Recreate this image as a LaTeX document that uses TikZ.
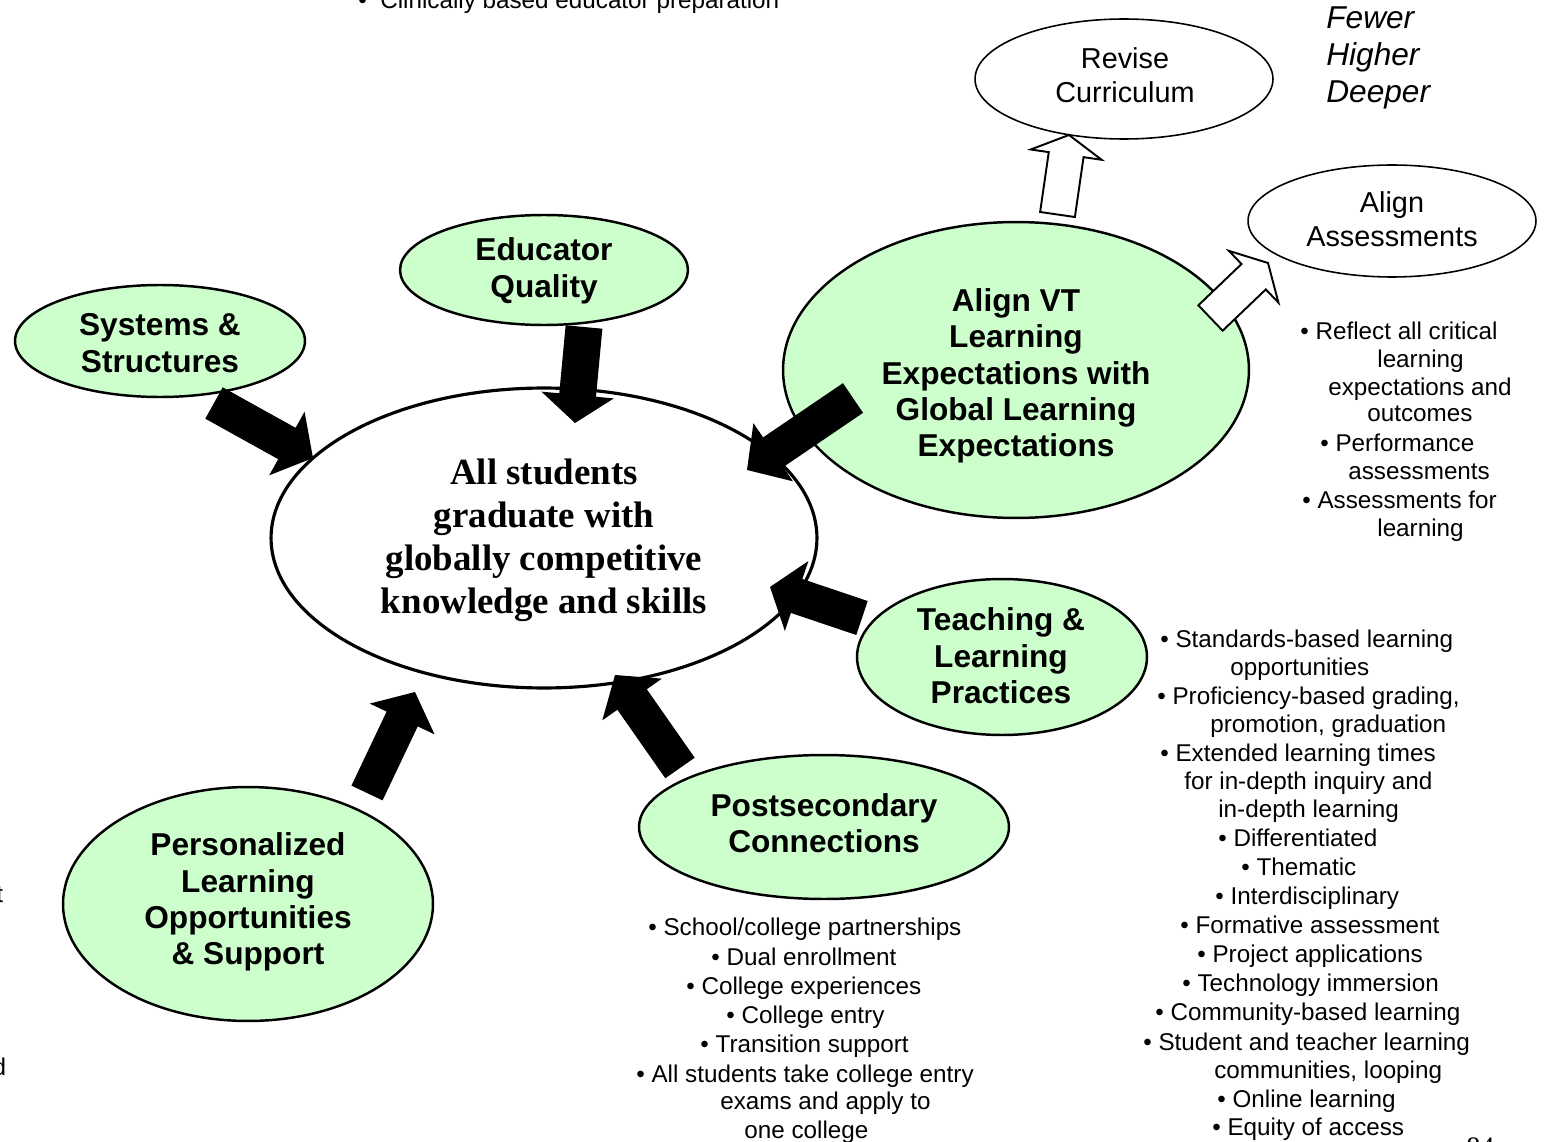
\documentclass[tikz,border=0pt]{standalone}
\usepackage{fontspec}
\setmainfont{Liberation Sans}
\newfontfamily\serifface{Liberation Serif}
\usetikzlibrary{shapes.geometric,calc}
\definecolor{lightgreen}{HTML}{CCFFCC}
\tikzset{
 greenell/.style={ellipse, draw=black, line width=1.4pt, fill=lightgreen, inner sep=0},
 whiteell/.style={ellipse, draw=black, line width=0.9pt, fill=white, inner sep=0},
 mainell/.style={ellipse, draw=black, line width=1.8pt, fill=white, inner sep=0},
 boldlbl/.style={align=center, inner sep=0, font=\fontsize{18}{20.7}\selectfont\bfseries},
 plainlbl/.style={align=center, inner sep=0, font=\fontsize{16.4}{19.3}\selectfont},
 mainlbl/.style={align=center, inner sep=0, font=\serifface\fontsize{21}{24.4}\selectfont\bfseries},
 bul/.style={anchor=base west, inner sep=0, font=\fontsize{13.8}{16.4}\selectfont},
 blackarr/.style={fill=black},
 whitearr/.style={fill=white, draw=black, line width=1.1pt, line join=miter},
}
\newcommand\myblockarrow[6]{%
  \path ($(#2)!#5!(#1)$) coordinate (ba-n);
  \path[#6] ($(#1)!#3!90:(#2)$) -- ($(ba-n)!#3!-90:(#1)$) -- ($(ba-n)!#4!-90:(#1)$) -- (#2)
    -- ($(ba-n)!#4!90:(#1)$) -- ($(ba-n)!#3!90:(#1)$) -- ($(#1)!#3!-90:(#2)$) -- cycle;
}
\begin{document}
\begin{tikzpicture}[x=0.02cm, y=-0.02cm]
\useasboundingbox (0,0) rectangle (1545,1142);

% ellipses
\node[mainell, minimum width=10.92cm, minimum height=6.0cm] (main) at (544,538) {};
\node[greenell, minimum width=5.76cm, minimum height=2.2cm] (edu) at (544,270) {};
\node[greenell, minimum width=5.8cm, minimum height=2.24cm] (sys) at (160,341) {};
\node[greenell, minimum width=9.32cm, minimum height=5.92cm] (alvt) at (1016,370) {};
\node[greenell, minimum width=5.8cm, minimum height=3.12cm] (teach) at (1002,657) {};
\node[greenell, minimum width=7.4cm, minimum height=2.88cm] (post) at (824,827) {};
\node[greenell, minimum width=7.4cm, minimum height=4.68cm] (pers) at (248,904) {};
\node[whiteell, minimum width=5.96cm, minimum height=2.4cm] (rev) at (1124,79) {};
\node[whiteell, minimum width=5.76cm, minimum height=2.24cm] (assess) at (1392,221) {};

% arrows
\coordinate (a1t) at (214,403); \coordinate (a1h) at (313,458);
\coordinate (a2t) at (584,327); \coordinate (a2h) at (575,423);
\coordinate (a3t) at (853,398); \coordinate (a3h) at (747,470);
\coordinate (a4t) at (862,618); \coordinate (a4h) at (770,587);
\coordinate (a5t) at (680,768); \coordinate (a5h) at (615,675);
\coordinate (a6t) at (367,793); \coordinate (a6h) at (415,692);
\coordinate (w1t) at (1057.5,214.5); \coordinate (w1h) at (1069,135);
\coordinate (w2t) at (1210.5,318); \coordinate (w2h) at (1268,263);
\myblockarrow{a1t}{a1h}{10.2pt}{20.7pt}{17pt}{blackarr}
\myblockarrow{a2t}{a2h}{10.5pt}{20.7pt}{16pt}{blackarr}
\myblockarrow{a3t}{a3h}{10.2pt}{20pt}{18pt}{blackarr}
\myblockarrow{a4t}{a4h}{10.2pt}{21pt}{16pt}{blackarr}
\myblockarrow{a5t}{a5h}{10.2pt}{20.7pt}{17pt}{blackarr}
\myblockarrow{a6t}{a6h}{9.8pt}{20.4pt}{17pt}{blackarr}
\myblockarrow{w1t}{w1h}{10pt}{20.4pt}{11.3pt}{whitearr}
\myblockarrow{w2t}{w2h}{10pt}{20.4pt}{11.3pt}{whitearr}

% labels
\node[mainlbl] (main-t) at (544,540) {All students\\graduate with\\globally competitive\\knowledge and skills};
\node[boldlbl] (edu-t) at (544,271) {Educator\\Quality};
\node[boldlbl] (sys-t) at (160,343) {Systems \&\\Structures};
\node[boldlbl] (alvt-t) at (1016,376) {Align VT\\Learning\\Expectations with\\Global Learning\\Expectations};
\node[boldlbl] (teach-t) at (1001,656) {Teaching \&\\Learning\\Practices};
\node[boldlbl] (post-t) at (824,823) {Postsecondary\\Connections};
\node[boldlbl] (pers-t) at (248,902) {Personalized\\Learning\\Opportunities\\\& Support};
\node[plainlbl] (rev-t) at (1125,75) {Revise\\Curriculum};
\node[plainlbl] (assess-t) at (1392,219) {Align\\Assessments};
\node[anchor=west, align=left, inner sep=0, font=\fontsize{18}{21}\selectfont\itshape] (fhd) at (1326,58) {Fewer\\Higher\\Deeper};

% bullet lists
\node[bul] (top1) at (358,9) {\textbullet\ \ Clinically based educator preparation};

\foreach \x/\y/\t [count=\i] in {
  1300/332/{\textbullet\ Reflect all critical},
  1377/360/{learning},
  1328/388/{expectations and},
  1367/414/{outcomes},
  1320/444/{\textbullet\ Performance},
  1348/472/{assessments},
  1302/501/{\textbullet\ Assessments for},
  1377/529/{learning}}
  \node[bul] (al\i) at (\x,\y+7) {\t};

\foreach \x/\y/\t [count=\i] in {
  648/928/{\textbullet\ School/college partnerships},
  711/958/{\textbullet\ Dual enrollment},
  686/987/{\textbullet\ College experiences},
  726/1016/{\textbullet\ College entry},
  700/1045/{\textbullet\ Transition support},
  636/1075/{\textbullet\ All students take college entry},
  720/1102/{exams and apply to},
  744/1131/{one college}}
  \node[bul] (pl\i) at (\x,\y+7) {\t};

\foreach \x/\y/\t [count=\i] in {
  1160/640/{\textbullet\ Standards-based learning},
  1230/668/{opportunities},
  1157/697/{\textbullet\ Proficiency-based grading,},
  1210/725/{promotion, graduation},
  1160/754/{\textbullet\ Extended learning times},
  1184/782/{for in-depth inquiry and},
  1218/810/{in-depth learning},
  1218/839/{\textbullet\ Differentiated},
  1241/868/{\textbullet\ Thematic},
  1215/897/{\textbullet\ Interdisciplinary},
  1180/926/{\textbullet\ Formative assessment},
  1197/955/{\textbullet\ Project applications},
  1182/984/{\textbullet\ Technology immersion},
  1155/1013/{\textbullet\ Community-based learning},
  1143/1043/{\textbullet\ Student and teacher learning},
  1214/1071/{communities, looping},
  1217/1100/{\textbullet\ Online learning},
  1212/1128/{\textbullet\ Equity of access}}
  \node[bul] (tl\i) at (\x,\y+7) {\t};

% cut-off fragments at the page edges
\node[bul, anchor=base east] (frag1) at (3.5,902) {t};
\node[bul, anchor=base east] (frag2) at (6.5,1075) {d};
\node[anchor=north west, inner sep=0, font=\serifface\fontsize{16}{18}\selectfont] (pg) at (1466,1137) {84};
\end{tikzpicture}
\end{document}
